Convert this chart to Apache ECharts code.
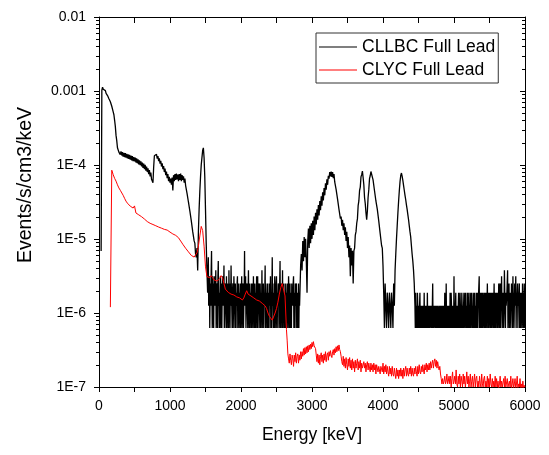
<!DOCTYPE html>
<html><head><meta charset="utf-8">
<script src="https://cdn.jsdelivr.net/npm/echarts@6/dist/echarts.min.js"></script>
<style>html,body{margin:0;padding:0;background:#fff}#c{width:549px;height:455px}</style>
</head><body><div id="c"></div><script>
const FONT = 'Liberation Sans, Arial, Helvetica, sans-serif';
const seriesNames = ['CLLBC Full Lead', 'CLYC Full Lead'];
const xAxisTitle = 'Energy [keV]';
const yAxisTitle = 'Events/s/cm3/keV';
const xRange = [0, 6000];
const yRange = [1e-7, 0.01];

// CLLBC: values in counts (1 count = cllbcUnit events/s/cm3/keV)
const cllbcUnit = 6.28e-7;
const cllbcLowStart = 30, cllbcLowStep = 10;
const cllbcLow = [
11,1640,1790,1680,1720,1590,1610,1480,1470,1380,
1340,1250,1230,1140,1110,990,950,830,760,640,
530,400,340,272,266,238,248,220,244,214,
238,206,232,204,230,200,226,196,222,192,
218,188,214,184,210,180,204,178,200,172,
196,168,190,162,184,158,178,152,172,146,
166,140,160,134,152,128,144,120,136,112,
126,102,106,92,150,212,222,204,222,194,
210,180,196,166,182,152,168,140,154,128,
142,116,130,106,120,96,110,92,104,86,
108,72,116,96,120,100,122,102,118,96,
120,100,122,96,116,100,112,92,104,84,
84,66,66,50,50,38,37,28,28,20,
21,15,14,10,9,12,6,20,40,70,
110,160,200,250,272,200,110,40,14,6];
const cllbcNoise1Start = 1530, cllbcNoise1Step = 5;
const cllbcNoise1 = [
3,6,9,2,4,5,1,3,4,2,6,11,3,1,2,5,3,1,4,2,
5,2,3,6,1,2,3,4,1,5,8,2,3,1,2,3,5,1,2,4,
1,3,5,2,4,3,7,1,2,4,3,2,1,5,3,1,4,2,3,1,
6,2,3,1,4,2,7,3,2,1,3,4,1,2,5,3,2,1,4,2,
1,3,2,4,5,1,3,4,2,1,3,2,4,1,2,3,5,1,2,3,
4,1,2,3,11,2,3,5,1,2,3,4,2,1,3,6,2,1,4,2,
1,3,2,4,1,2,4,3,1,5,2,3,1,4,2,1,3,2,5,1,
3,5,1,2,3,4,2,1,4,2,1,3,2,6,1,3,2,4,1,3,
2,3,7,1,4,2,3,1,2,4,1,3,2,1,4,3,2,5,1,2,
1,3,9,2,4,1,3,2,1,5,2,3,1,4,5,2,1,3,2,4,
3,1,2,4,8,1,3,2,4,1,2,6,1,3,2,4,1,2,3,1,
4,2,1,3,2,4,1,2,5,3,1,2,4,1,3,2,1,4,2,3,
2,4,5,1,3,2,1,4,2,3,4,1,2,3,1,2,4,1,3,2];
const cllbcPeaksStart = 2830, cllbcPeaksStep = 10;
const cllbcPeaks = [
3,7,10,6,15,8,17,9,16,8,
3,15,22,12,24,14,26,16,28,18,
32,21,36,25,40,29,46,33,52,39,
60,45,68,53,78,62,90,74,102,86,
114,104,128,112,130,110,128,106,120,94,
96,74,74,55,55,40,40,30,32,24,
29,21,26,18,23,15,20,12,17,9,
13,5,12,7,11,4,11,12,18,20,
26,30,45,52,72,80,110,118,132,108,
86,58,48,36,29,38,58,74,104,114,
130,126,126,100,94,72,70,52,51,40,
38,28,27,19,18,13,12,7];
const cllbcPeak4Start = 4010, cllbcPeak4Step = 10;
const cllbcPeak4 = [
3,1,4,2,1,3,2,1,3,2,
1,3,2,1,4,2,6,10,16,24,
36,52,72,95,115,124,112,98,84,72,
62,54,46,40,34,29,24,20,17,13,
10,8,6,4];
const cllbcNoise2Start = 4450, cllbcNoise2Step = 5;
const cllbcNoise2 = [
2,1,3,1,2,2,1,3,2,1,1,2,1,2,3,1,2,1,1,2,
1,2,1,2,2,1,3,1,2,1,1,2,1,2,1,3,1,2,1,2,
1,2,1,1,2,2,1,2,1,2,4,1,2,1,1,2,2,1,2,1,
1,2,1,2,1,2,2,1,1,2,1,2,1,1,2,1,2,2,1,2,
2,1,2,1,3,1,2,1,4,1,2,1,2,2,1,2,1,2,1,3,
2,1,3,2,1,2,2,1,2,1,5,1,2,1,2,3,1,2,1,2,
2,1,2,3,1,2,1,3,2,1,2,1,3,2,1,2,1,2,3,1,
1,2,3,1,2,2,1,3,2,1,3,2,1,2,1,3,2,1,2,3,
3,1,2,1,3,2,1,2,3,1,2,2,1,3,2,1,3,1,2,2,
2,5,1,3,2,1,3,2,1,3,2,1,3,2,2,1,3,2,1,3,
2,1,3,2,4,1,2,3,1,2,3,2,1,3,2,1,3,1,2,3,
3,1,2,4,1,3,2,1,3,2,3,1,2,3,1,2,4,2,1,3,
4,1,3,2,5,2,1,3,2,3,1,2,6,3,2,1,3,2,2,3,
3,6,1,3,2,4,1,3,2,3,1,2,4,2,3,1,5,2,3,1,
1,4,2,3,5,1,3,2,2,4,1,3,2,3,4,1,2,3,1,3,
2,3,1,4,2,3,1,2,4,1,2];

// CLYC: values in units of 1E-7 events/s/cm3/keV
const clycUnit = 1e-7;
const clycLowStart = 160, clycLowStep = 20;
const clycLow = [
12,850,740,660,605,540,490,455,430,390,
355,325,305,290,278,268,262,280,225,228,
212,205,200,192,186,178,172,168,163,160,
157,154,151,148,145,142,140,137,135,137,
132,128,124,120,117,113,112,110,104,97,
91,85,80,75,71,67,63,60,58,57,
58,65,80,110,148,130,80,42,31,30,
30,32,30,28,27,27,28,29,32,30,
25,21,20,19,18.5,18,17.5,17.5,17,16.5,
16,16,15.5,15,16,18,20,18,17.5,17,
17,16,15.5,15,14.5,14.5,14,13.5,13,12.5,
11.5,10,9,8.5,8,8.5,10,11.5,14,18,
22,25,24,17,6];
const clycTailStart = 2650, clycTailStep = 10;
const clycTail = [
4.3,2.8,2.4,2.1,2.8,2.3,2.0,2.7,2.4,1.9,
2.7,2.2,2.9,2.1,2.6,2.8,2.1,2.7,2.3,3.0,
2.4,3.0,2.6,3.3,2.7,3.4,2.8,3.5,2.9,3.6,
3.0,3.7,3.2,3.8,3.3,4.0,3.5,4.1,3.6,3.4,
3.3,2.7,2.2,2.8,2.1,2.7,2.0,2.6,2.9,2.2,
2.7,2.1,2.8,2.3,3.0,2.2,2.7,2.9,2.3,3.0,
2.6,3.1,2.7,2.5,3.0,3.2,2.7,3.3,2.9,3.5,
3.0,3.6,3.1,3.7,3.2,3.0,2.6,2.2,2.0,2.6,
1.9,2.4,1.8,2.5,2.0,1.7,2.4,1.9,2.5,1.8,
2.3,1.7,2.4,1.8,2.2,1.6,2.3,1.8,2.1,2.4,
1.7,2.2,1.8,2.3,1.6,2.1,1.8,1.7,2.2,1.8,
2.1,1.6,2.0,2.2,1.7,2.1,1.8,1.6,2.1,1.7,
2.0,1.6,2.1,1.7,2.0,1.5,2.0,2.1,1.6,1.9,
2.0,1.5,1.9,2.0,1.6,2.1,1.5,1.9,1.6,2.0,
1.5,1.9,1.6,1.4,1.9,1.5,1.8,1.4,1.9,1.5,
1.4,1.8,1.5,1.3,1.8,1.4,1.7,1.3,1.7,1.4,
1.8,1.4,1.7,1.3,1.8,1.4,1.7,1.9,1.4,1.8,
1.5,1.4,1.8,1.5,1.9,1.4,1.8,1.5,1.4,1.8,
1.5,1.9,1.6,1.4,1.9,1.5,2.0,1.6,1.5,1.9,
1.6,2.0,1.7,1.5,2.0,1.7,2.1,1.6,2.0,1.7,
2.1,1.7,2.2,1.8,2.1,2.3,1.8,2.2,2.4,1.9,
2.3,1.8,2.2,1.9,1.7,1.9,1.5,1.3,1.1,1.3,
1.1,1.2,1.4,1.1,1.2,1.5,1.1,1.2,1.4,1.1,
1.4,1.0,1.3,1.6,1.1,1.2,1.4,1.1,1.7,1.1,
1.0,1.4,1.1,1.5,1.0,1.4,1.2,1.0,1.5,1.1,
1.4,1.0,1.2,1.6,1.1,1.4,1.0,1.2,1.5,1.0,
1.2,1.4,1.0,1.2,1.5,1.0,1.3,1.4,1.0,1.2,
1.0,1.4,1.1,1.0,1.5,1.1,1.0,1.3,1.4,1.0,
1.2,1.0,1.4,1.0,1.3,1.0,1.5,1.1,1.0,1.3,
1.0,1.2,1.0,1.4,1.0,1.3,1.0,1.2,0.95,1.1,
1.4,1.0,1.2,1.0,0.95,1.3,1.0,1.4,1.0,0.95,
1.3,1.0,0.95,1.2,1.0,1.4,0.95,1.1,1.3,0.95,
1.1,1.3,0.95,1.1,1.4,0.95,1.1,1.0,1.3,0.95,
1.1,0.95,1.2,0.95,1.05,1.0];

function seg(start, step, vals, unit) {
  return vals.map((v, i) => [start + i * step, v * unit]);
}
const cllbcData = [].concat(
  seg(cllbcLowStart, cllbcLowStep, cllbcLow, cllbcUnit),
  seg(cllbcNoise1Start, cllbcNoise1Step, cllbcNoise1, cllbcUnit),
  seg(cllbcPeaksStart, cllbcPeaksStep, cllbcPeaks, cllbcUnit),
  seg(cllbcPeak4Start, cllbcPeak4Step, cllbcPeak4, cllbcUnit),
  seg(cllbcNoise2Start, cllbcNoise2Step, cllbcNoise2, cllbcUnit)
);
const clycData = [].concat(
  seg(clycLowStart, clycLowStep, clycLow, clycUnit),
  seg(clycTailStart, clycTailStep, clycTail, clycUnit)
);

// minor tick values of the log axis (2..9 x 10^n)
const minorTickValues = [];
for (let e = -7; e < -2; e++) for (let k = 2; k <= 9; k++) minorTickValues.push(k * Math.pow(10, e));

const chart = echarts.init(document.getElementById('c'), null, {renderer: 'canvas'});
const black = '#000';
const axisCommon = {
  axisLine: {show: true, onZero: false, lineStyle: {color: black, width: 1}},
  splitLine: {show: false}
};
const option = {
  animation: false,
  backgroundColor: '#fff',
  grid: {left: 99, right: 24, top: 17, bottom: 68, containLabel: false},
  legend: {
    left: 316, top: 33, orient: 'vertical',
    itemWidth: 38, itemHeight: 1, itemGap: 5,
    padding: [5, 3, 4, 3],
    borderColor: '#333', borderWidth: 1,
    selectedMode: false,
    textStyle: {fontFamily: FONT, fontSize: 17.5, color: black, lineHeight: 18},
    data: [{name: seriesNames[0], icon: 'rect'}, {name: seriesNames[1], icon: 'rect'}]
  },
  xAxis: [
    Object.assign({}, axisCommon, {
      type: 'value', min: xRange[0], max: xRange[1], interval: 500, position: 'bottom',
      name: xAxisTitle, nameLocation: 'middle', nameGap: 39,
      nameTextStyle: {fontFamily: FONT, fontSize: 17.5, color: black},
      axisTick: {show: true, inside: false, length: 5, lineStyle: {color: black}},
      axisLabel: {margin: 12, fontFamily: FONT, fontSize: 14, color: black,
        formatter: function (v) { return v % 1000 === 0 ? String(v) : ''; }}
    }),
    Object.assign({}, axisCommon, {
      type: 'value', min: xRange[0], max: xRange[1], interval: 500, position: 'top',
      axisTick: {show: true, inside: true, length: 6, lineStyle: {color: black}},
      axisLabel: {show: false}
    })
  ],
  yAxis: [
    Object.assign({}, axisCommon, {
      type: 'log', logBase: 10, min: yRange[0], max: yRange[1], position: 'left',
      axisTick: {show: true, inside: false, length: 5, lineStyle: {color: black}},
      axisLabel: {margin: 13, fontFamily: FONT, fontSize: 14, color: black,
        formatter: function (v) {
          const e = Math.round(Math.log10(v));
          return e >= -3 ? v.toFixed(-e) : '1E' + e;
        }}
    }),
    Object.assign({}, axisCommon, {
      type: 'log', logBase: 10, min: yRange[0], max: yRange[1], position: 'right',
      axisTick: {show: true, inside: true, length: 5, lineStyle: {color: black}},
      axisLabel: {show: false}
    })
  ],
  graphic: [{
    type: 'text', x: 26, y: 185, rotation: Math.PI / 2,
    style: {text: yAxisTitle, font: '19.5px ' + FONT, fill: black, align: 'center', verticalAlign: 'middle'}
  }],
  series: [
    {name: seriesNames[0], type: 'line', data: cllbcData, showSymbol: false, symbol: 'none',
     lineStyle: {color: black, width: 1.3}, itemStyle: {color: black}, z: 2},
    {name: seriesNames[1], type: 'line', data: clycData, showSymbol: false, symbol: 'none',
     lineStyle: {color: '#ff0000', width: 1}, itemStyle: {color: '#ff0000'}, z: 3},
    {type: 'custom', silent: true, clip: false, z: 4,
     data: minorTickValues.map(v => [xRange[0], v]),
     renderItem: function (params, api) {
       const v = api.value(1);
       const pl = api.coord([xRange[0], v]);
       const pr = api.coord([xRange[1], v]);
       const yl = Math.round(pl[1]) + 0.5;
       return {type: 'group', children: [
         {type: 'line', shape: {x1: pl[0] - 3, y1: yl, x2: pl[0], y2: yl}, style: {stroke: black, lineWidth: 1}},
         {type: 'line', shape: {x1: pr[0] - 3, y1: yl, x2: pr[0], y2: yl}, style: {stroke: black, lineWidth: 1}}
       ]};
     }}
  ]
};
chart.setOption(option);
</script></body></html>
